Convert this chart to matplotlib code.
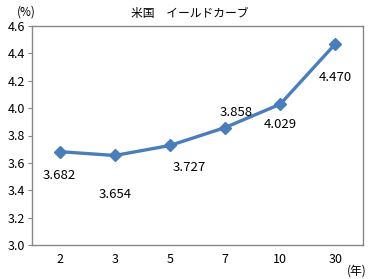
import matplotlib
matplotlib.use("Agg")
from matplotlib import pyplot as plt

plt.rcParams['font.family'] = ['Noto Sans CJK JP', 'DejaVu Sans']

# 年限と利回り
maturities = ["2", "3", "5", "7", "10", "30"]
yields = [3.682, 3.654, 3.727, 3.858, 4.029, 4.470]
# ラベルのずらし (points)
label_offsets = [(0, -17), (0, -28), (14, -16), (8, 11), (0, -15), (0, -24)]

fig = plt.figure(figsize=(3.70, 2.79), dpi=100)
ax = fig.add_axes([32 / 370, 1 - 245 / 279, 331 / 370, 219 / 279])

x = list(range(len(maturities)))
ax.plot(x, yields, color='#4a7ebb', lw=2.4, marker='D', markersize=6,
        markerfacecolor='#4a7ebb', markeredgecolor='#4a7ebb', zorder=3)

for xi, v, off in zip(x, yields, label_offsets):
    ax.annotate(f"{v:.3f}", (xi, v), xytext=off, textcoords='offset points',
                ha='center', va='center', fontsize=9.5)

ax.set_xlim(-0.5, len(maturities) - 0.5)
ax.set_ylim(3.0, 4.6)
ax.set_yticks([3.0 + 0.2 * i for i in range(9)])
ax.set_yticklabels([f"{3.0 + 0.2 * i:.1f}" for i in range(9)], fontsize=9)
ax.set_xticks(x)
ax.set_xticklabels(maturities, fontsize=9)
ax.tick_params(axis='x', length=0, pad=6)
ax.tick_params(axis='y', length=3, width=0.8, color='#888888', pad=2)
for s in ax.spines.values():
    s.set_color('#888888')
    s.set_linewidth(1.0)

fig.text(190 / 370, 1 - 13 / 279, "米国　イールドカーブ", ha='center', va='center', fontsize=8.5)
fig.text(26 / 370, 1 - 12 / 279, "(%)", ha='center', va='center', fontsize=8.5)
fig.text(367 / 370, 1 - 271 / 279, "(年)", ha='right', va='center', fontsize=8.5)

fig.savefig("out.png", dpi=100)
